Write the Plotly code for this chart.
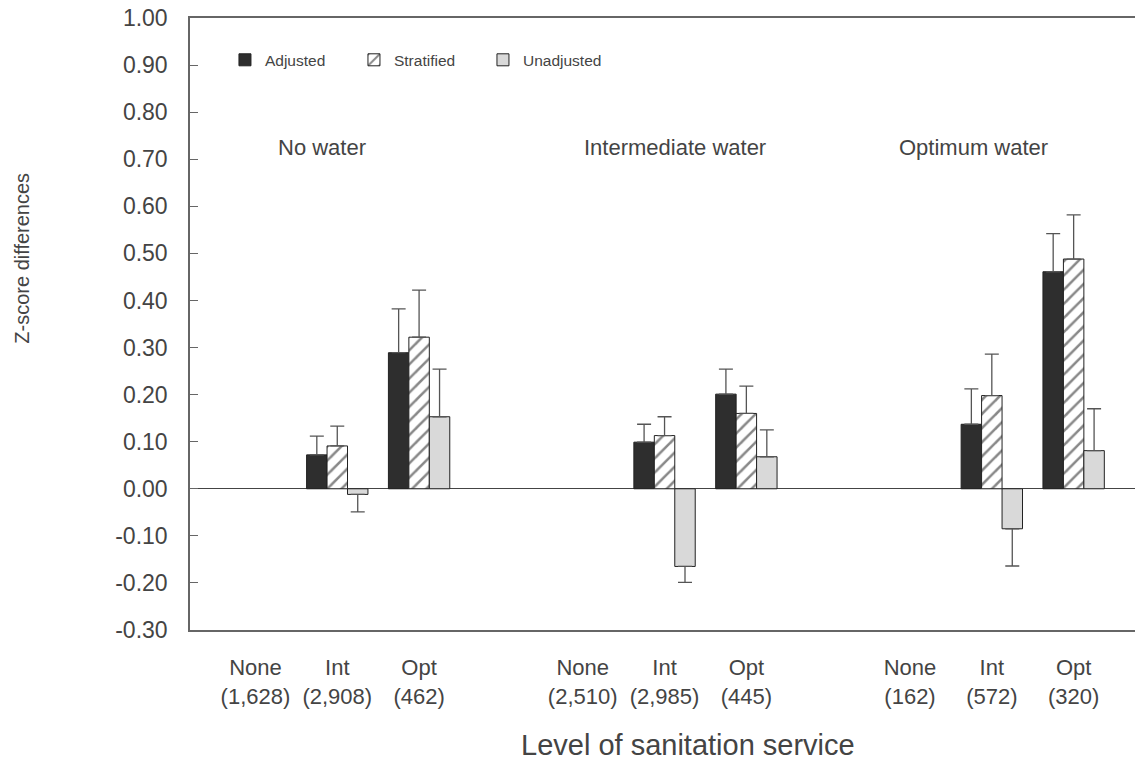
import plotly.graph_objects as go

# ---- data ----
water_groups = ["No water", "Intermediate water", "Optimum water"]
sanitation_levels = ["None", "Int", "Opt"]
sample_sizes = ["(1,628)", "(2,908)", "(462)",
                "(2,510)", "(2,985)", "(445)",
                "(162)", "(572)", "(320)"]

adjusted = [None, 0.072, 0.289, None, 0.099, 0.201, None, 0.137, 0.461]
adjusted_ci = [None, 0.112, 0.382, None, 0.137, 0.254, None, 0.212, 0.542]

stratified = [None, 0.091, 0.322, None, 0.113, 0.160, None, 0.198, 0.488]
stratified_ci = [None, 0.133, 0.422, None, 0.153, 0.218, None, 0.286, 0.582]

unadjusted = [None, -0.012, 0.153, None, -0.165, 0.068, None, -0.085, 0.081]
unadjusted_ci = [None, -0.049, 0.254, None, -0.199, 0.125, None, -0.164, 0.170]

y_ticks = [-0.30, -0.20, -0.10, 0.00, 0.10, 0.20, 0.30, 0.40, 0.50,
           0.60, 0.70, 0.80, 0.90, 1.00]
y_tick_text = ["-0.30", "-0.20", "-0.10", "0.00", "0.10", "0.20", "0.30", "0.40", "0.50",
               "0.60", "0.70", "0.80", "0.90", "1.00"]

# x positions: three groups of three sanitation levels with a gap between groups
x_pos = []
tick_text = []
for g in range(len(water_groups)):
    for k, lev in enumerate(sanitation_levels):
        x_pos.append(g * 4 + k)
        tick_text.append(lev + "<br>" + sample_sizes[g * 3 + k])


def err_arrays(vals, ends):
    up, down = [], []
    for v, e in zip(vals, ends):
        if v is None:
            up.append(0)
            down.append(0)
        elif e >= v:
            up.append(e - v)
            down.append(0)
        else:
            up.append(0)
            down.append(v - e)
    return up, down


TXT = "#444444"
FONT = "Liberation Sans, Arial, sans-serif"

fig = go.Figure()

series = [
    ("Adjusted", adjusted, adjusted_ci, dict(color="#2e2e2e")),
    ("Stratified", stratified, stratified_ci,
     dict(color="white", pattern=dict(shape="/", fgcolor="#111111", bgcolor="white",
                                      size=10, solidity=0.25))),
    ("Unadjusted", unadjusted, unadjusted_ci, dict(color="#d9d9d9")),
]

for name, vals, ci, mk in series:
    up, down = err_arrays(vals, ci)
    mk = dict(mk)
    mk["line"] = dict(color="#222222", width=1)
    fig.add_trace(go.Bar(
        name=name, x=x_pos, y=vals, marker=mk,
        error_y=dict(type="data", symmetric=False, array=up, arrayminus=down,
                     color="#555555", thickness=1.3, width=7),
    ))

group_label_x = [0.81, 5.13, 8.77]
for gx, gname in zip(group_label_x, water_groups):
    fig.add_annotation(x=gx, y=0.724, xref="x", yref="y", text=gname,
                       showarrow=False, font=dict(size=22, color=TXT, family=FONT))

fig.add_annotation(x=-0.178, y=0.608, xref="paper", yref="paper", text="Z-score differences",
                   textangle=-90, showarrow=False, xanchor="center", yanchor="middle",
                   font=dict(size=20, color=TXT, family=FONT))

fig.add_annotation(x=0.527, y=-0.188, xref="paper", yref="paper",
                   text="Level of sanitation service", showarrow=False,
                   xanchor="center", yanchor="middle",
                   font=dict(size=29, color=TXT, family=FONT))

fig.update_layout(
    width=1135, height=766,
    margin=dict(l=190, r=0, t=18, b=136),
    paper_bgcolor="white", plot_bgcolor="white",
    barmode="group", bargap=0.25, bargroupgap=0,
    font=dict(family=FONT, color=TXT),
    legend=dict(orientation="h", x=0.037, y=0.931, xanchor="left", yanchor="middle",
                font=dict(size=15.5, color=TXT), entrywidth=84, entrywidthmode="pixels",
                bgcolor="rgba(0,0,0,0)", traceorder="normal"),
    showlegend=True,
)

fig.update_xaxes(range=[-0.8, 10.75], tickmode="array", tickvals=x_pos, ticktext=tick_text,
                 showline=True, linecolor="#666666", linewidth=1.5, mirror=True,
                 ticks="", showgrid=False, zeroline=False,
                 tickfont=dict(size=22, color=TXT, family=FONT), ticklabelstandoff=17)

fig.update_yaxes(range=[-0.30, 1.00], tickmode="array", tickvals=y_ticks, ticktext=y_tick_text,
                 showline=True, linecolor="#666666", linewidth=1.5,
                 mirror=False, ticks="inside", ticklen=8, tickcolor="#666666",
                 showgrid=False, zeroline=True, zerolinecolor="#444444", zerolinewidth=1,
                 ticklabeloverflow="allow",
                 tickfont=dict(size=23, color=TXT, family=FONT), ticklabelstandoff=16)

# remove the browser's default 8px body margin so the figure sits at the page origin
fig.write_html("out.html", config={"displayModeBar": False},
               post_script="document.body.style.margin='0px';")
